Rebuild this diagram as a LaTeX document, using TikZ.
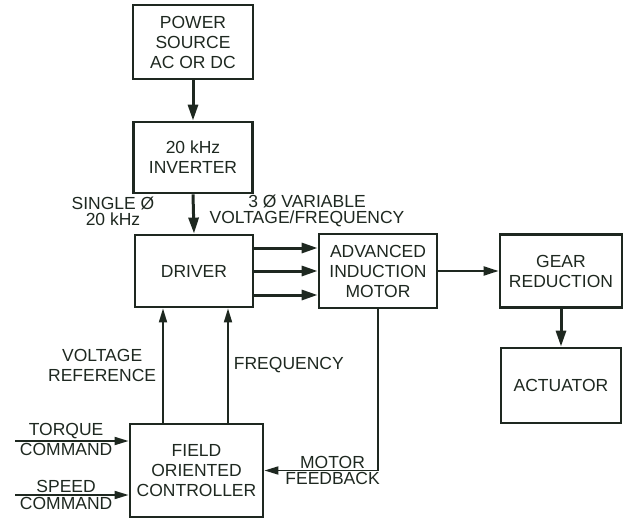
\documentclass[tikz,border=0pt]{standalone}
\usepackage{fontspec}
\setmainfont{Liberation Sans}
\usetikzlibrary{arrows.meta}
\definecolor{ink}{RGB}{30,40,32}

\begin{document}
\begin{tikzpicture}[x=1pt, y=-1pt,
  box/.style={draw=ink, line width=2.8pt, align=center, inner sep=2pt, text=ink, font=\fontsize{17.5}{20}\selectfont},
  lbl/.style={align=center, inner sep=1pt, text=ink, font=\fontsize{17.5}{20}\selectfont},
  arr/.style={draw=ink, line width=3pt, -{Triangle[length=16pt, width=10pt]}},
  arrmid/.style={draw=ink, line width=2.2pt, -{Triangle[length=15pt, width=9pt]}},
  arrthin/.style={draw=ink, line width=1.8pt, -{Triangle[length=14pt, width=8pt]}}]
\useasboundingbox (0,0) rectangle (627,519);

\node[box, minimum width=120pt, minimum height=74pt] (power) at (193, 42) {POWER\\SOURCE\\AC OR DC};
\node[box, minimum width=119pt, minimum height=71pt] (inverter) at (193, 157.5) {20 kHz\\INVERTER};
\node[box, minimum width=118pt, minimum height=72pt] (driver) at (194, 271) {DRIVER};
\node[box, minimum width=118pt, minimum height=74pt] (motor) at (378, 271) {ADVANCED\\INDUCTION\\MOTOR};
\node[box, minimum width=122pt, minimum height=73pt] (gear) at (561, 271) {GEAR\\REDUCTION};
\node[box, minimum width=120pt, minimum height=75pt] (actuator) at (561, 385.5) {ACTUATOR};
\node[box, minimum width=133pt, minimum height=93pt] (ctrl) at (196.5, 470.5) {FIELD\\ORIENTED\\CONTROLLER};

\node[lbl, font=\fontsize{17.5}{16}\selectfont] (single) at (113, 211) {SINGLE Ø\\20 kHz};
\node[lbl, font=\fontsize{17.5}{16}\selectfont] (threephase) at (307, 211) {3 Ø VARIABLE\\VOLTAGE/FREQUENCY};

\coordinate (torque) at (15, 441);
\coordinate (speed) at (15, 495);

\draw[arr] (power.south) -- (inverter.north);
\draw[arr] (inverter.south) -- (driver.north);
\draw[arr] ([yshift=23pt]driver.east) -- ([yshift=23pt]driver.east -| motor.west);
\draw[arr] (driver.east) -- (motor.west);
\draw[arr] ([yshift=-24pt]driver.east) -- ([yshift=-24pt]driver.east -| motor.west);
\draw[arrmid] (motor.east) -- (gear.west);
\draw[arr] (gear.south) -- (actuator.north);

\draw[arrthin] ([xshift=-33.5pt]ctrl.north) -- ([xshift=-33.5pt]ctrl.north |- driver.south) node[pos=0.5, left=5pt, lbl] {VOLTAGE\\REFERENCE};
\draw[arrthin] ([xshift=31.5pt]ctrl.north) -- ([xshift=31.5pt]ctrl.north |- driver.south) node[pos=0.5, right=4pt, lbl] {FREQUENCY};
\draw[arrthin] (motor.south) |- (ctrl.east) node[pos=0.7, above, lbl] {MOTOR} node[pos=0.7, below, lbl] {FEEDBACK};
\draw[arrthin] (torque) -- (torque -| ctrl.west) node[pos=0.45, above, lbl] {TORQUE} node[pos=0.45, below, lbl] {COMMAND};
\draw[arrthin] (speed) -- (speed -| ctrl.west) node[pos=0.45, above, lbl] {SPEED} node[pos=0.45, below, lbl] {COMMAND};

\end{tikzpicture}
\end{document}
